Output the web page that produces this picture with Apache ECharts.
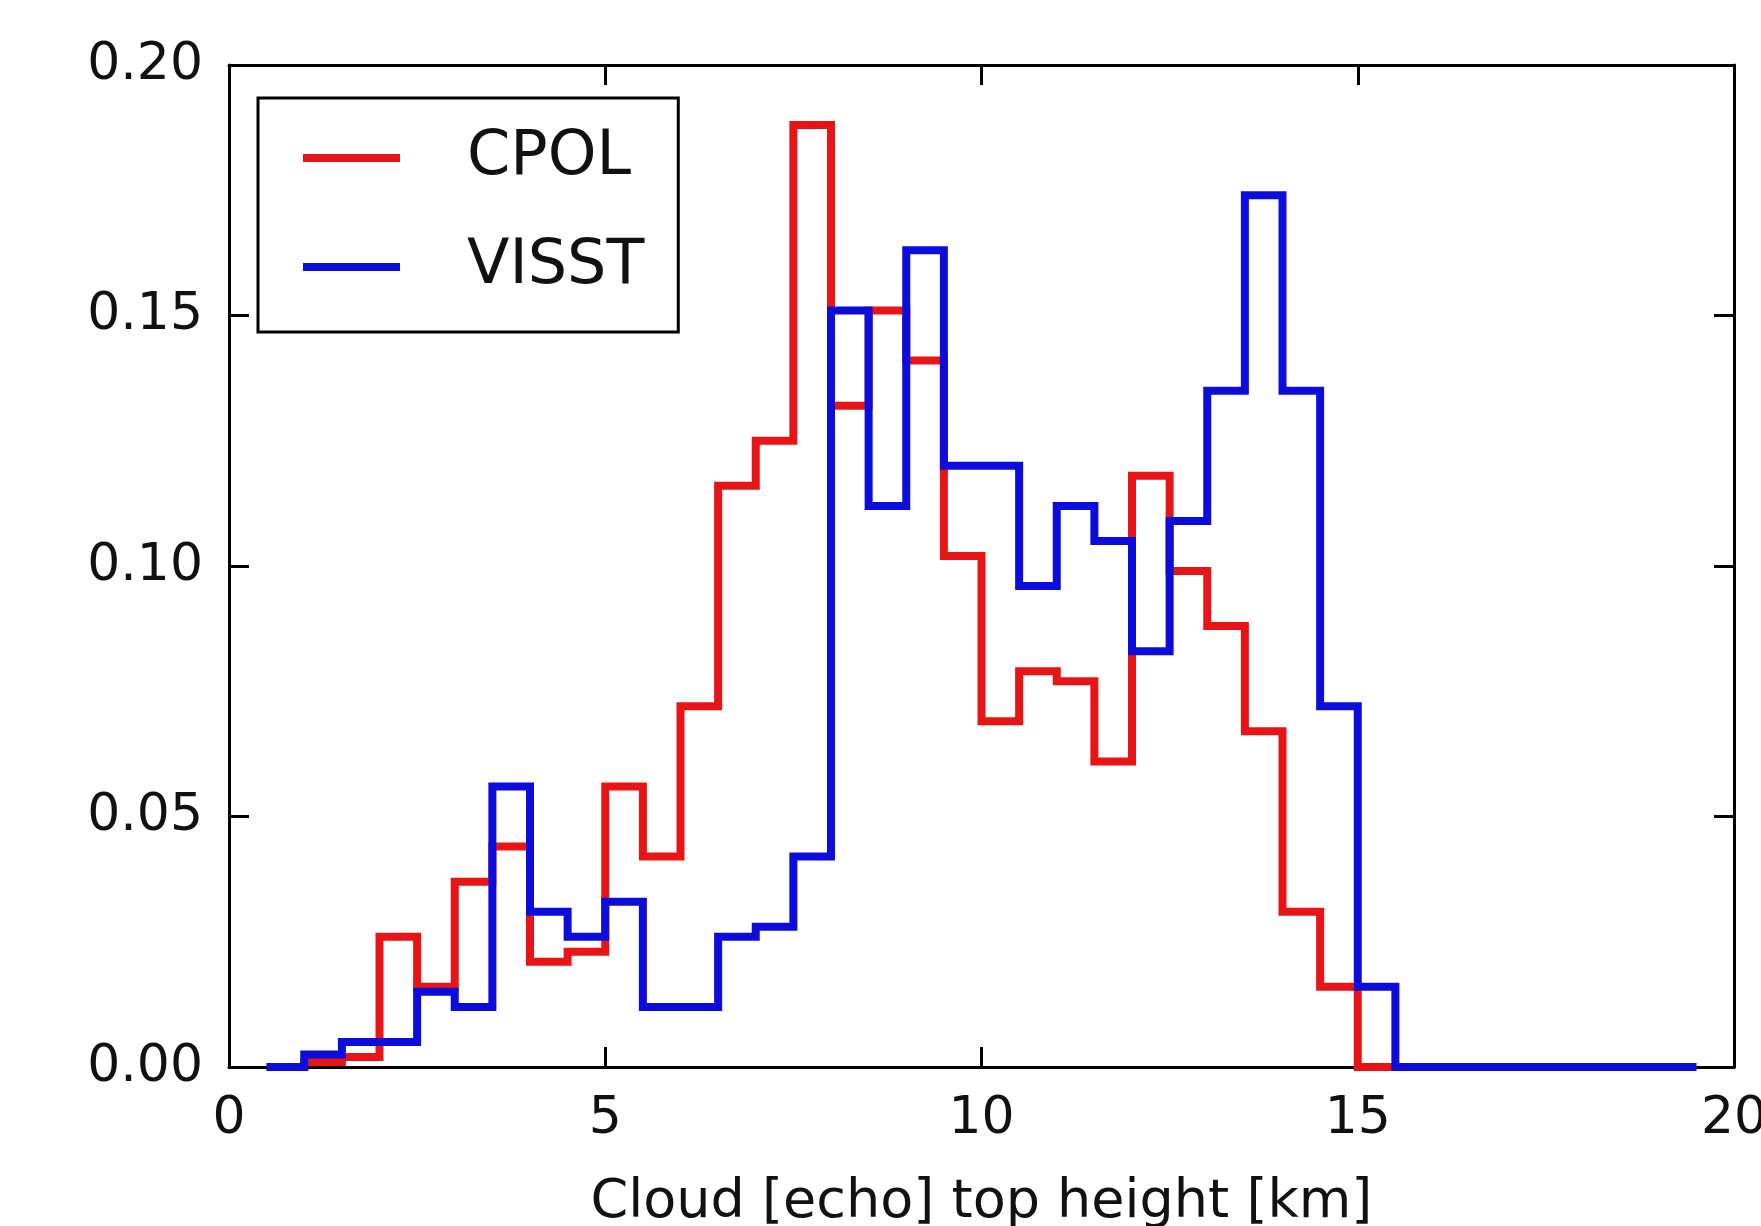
<!DOCTYPE html>
<html>
<head>
<meta charset="utf-8">
<title>Cloud top height histogram</title>
<script src="https://cdn.jsdelivr.net/npm/echarts@6/dist/echarts.min.js"></script>
<style>
  html, body { margin: 0; padding: 0; background: #fff; overflow: hidden; }
  #chart { width: 1761px; height: 1226px; }
</style>
</head>
<body>
<div id="chart"></div>
<script>
// histogram bins: 0.5 km wide, first bin starts at 0.5 km
var binStart = 0.5;
var binWidth = 0.5;

var cpolValues = [
  0, 0.001, 0.002, 0.026, 0.016, 0.037, 0.044, 0.021, 0.023, 0.056,
  0.042, 0.072, 0.116, 0.125, 0.188, 0.132, 0.151, 0.141, 0.102, 0.069,
  0.079, 0.077, 0.061, 0.118, 0.099, 0.088, 0.067, 0.031, 0.016, 0,
  0, 0, 0, 0, 0, 0, 0, 0
];
var visstValues = [
  0, 0.0025, 0.005, 0.005, 0.015, 0.012, 0.056, 0.031, 0.026, 0.033,
  0.012, 0.012, 0.026, 0.028, 0.042, 0.151, 0.112, 0.163, 0.120, 0.120,
  0.096, 0.112, 0.105, 0.083, 0.109, 0.135, 0.174, 0.135, 0.072, 0.016,
  0, 0, 0, 0, 0, 0, 0, 0
];

var xTicks = [0, 5, 10, 15, 20];
var yTicks = [0, 0.05, 0.10, 0.15, 0.20];

var seriesNames = ['CPOL', 'VISST'];
var seriesColors = ['#e81416', '#0c0cdc'];

// outline of a step histogram (like histtype='step')
function stepOutline(values) {
  var pts = [[binStart, 0]];
  for (var i = 0; i < values.length; i++) {
    var x0 = binStart + i * binWidth;
    pts.push([x0, values[i]]);
    pts.push([x0 + binWidth, values[i]]);
  }
  pts.push([binStart + values.length * binWidth, 0]);
  return pts;
}

var font = 'DejaVu Sans';
var tickStyle = { show: true, inside: true, length: 20, lineStyle: { color: '#000', width: 3 } };
var lineStyle = { show: true, onZero: false, lineStyle: { color: '#000', width: 3 } };

function xAxis(pos, withLabels) {
  return {
    type: 'value',
    position: pos,
    min: xTicks[0],
    max: xTicks[xTicks.length - 1],
    interval: xTicks[1] - xTicks[0],
    axisLine: lineStyle,
    axisTick: tickStyle,
    splitLine: { show: false },
    axisLabel: {
      show: withLabels,
      fontFamily: font,
      fontSize: 52,
      color: '#111',
      margin: 26
    },
    name: withLabels ? 'Cloud [echo] top height [km]' : '',
    nameLocation: 'middle',
    nameGap: 109,
    nameTextStyle: { fontFamily: font, fontSize: 54, color: '#111' }
  };
}

function yAxis(pos, withLabels) {
  return {
    type: 'value',
    position: pos,
    min: yTicks[0],
    max: yTicks[yTicks.length - 1],
    interval: yTicks[1] - yTicks[0],
    axisLine: lineStyle,
    axisTick: tickStyle,
    splitLine: { show: false },
    axisLabel: {
      show: withLabels,
      fontFamily: font,
      fontSize: 52,
      color: '#111',
      margin: 26,
      formatter: function (v) { return v.toFixed(2); }
    }
  };
}

var chart = echarts.init(document.getElementById('chart'), null, { renderer: 'canvas' });

chart.setOption({
  animation: false,
  backgroundColor: '#fff',
  grid: {
    left: 229, right: 27, top: 65, bottom: 159,
    containLabel: false,
    outerBoundsMode: 'none'
  },
  legend: {
    orient: 'vertical',
    left: 258,
    top: 98,
    data: seriesNames,
    icon: 'rect',
    itemWidth: 97,
    itemHeight: 8,
    itemGap: 47,
    padding: [29, 34, 34, 45],
    borderColor: '#000',
    borderWidth: 3,
    backgroundColor: '#fff',
    textStyle: {
      fontFamily: font,
      fontSize: 62,
      color: '#111',
      padding: [0, 0, 0, 62]
    }
  },
  xAxis: [xAxis('bottom', true), xAxis('top', false)],
  yAxis: [yAxis('left', true), yAxis('right', false)],
  series: [
    {
      name: seriesNames[0],
      type: 'line',
      data: stepOutline(cpolValues),
      symbol: 'none',
      color: seriesColors[0],
      lineStyle: { color: seriesColors[0], width: 8, join: 'miter' },
      z: 2
    },
    {
      name: seriesNames[1],
      type: 'line',
      data: stepOutline(visstValues),
      symbol: 'none',
      color: seriesColors[1],
      lineStyle: { color: seriesColors[1], width: 8, join: 'miter' },
      z: 3
    }
  ]
});
</script>
</body>
</html>
